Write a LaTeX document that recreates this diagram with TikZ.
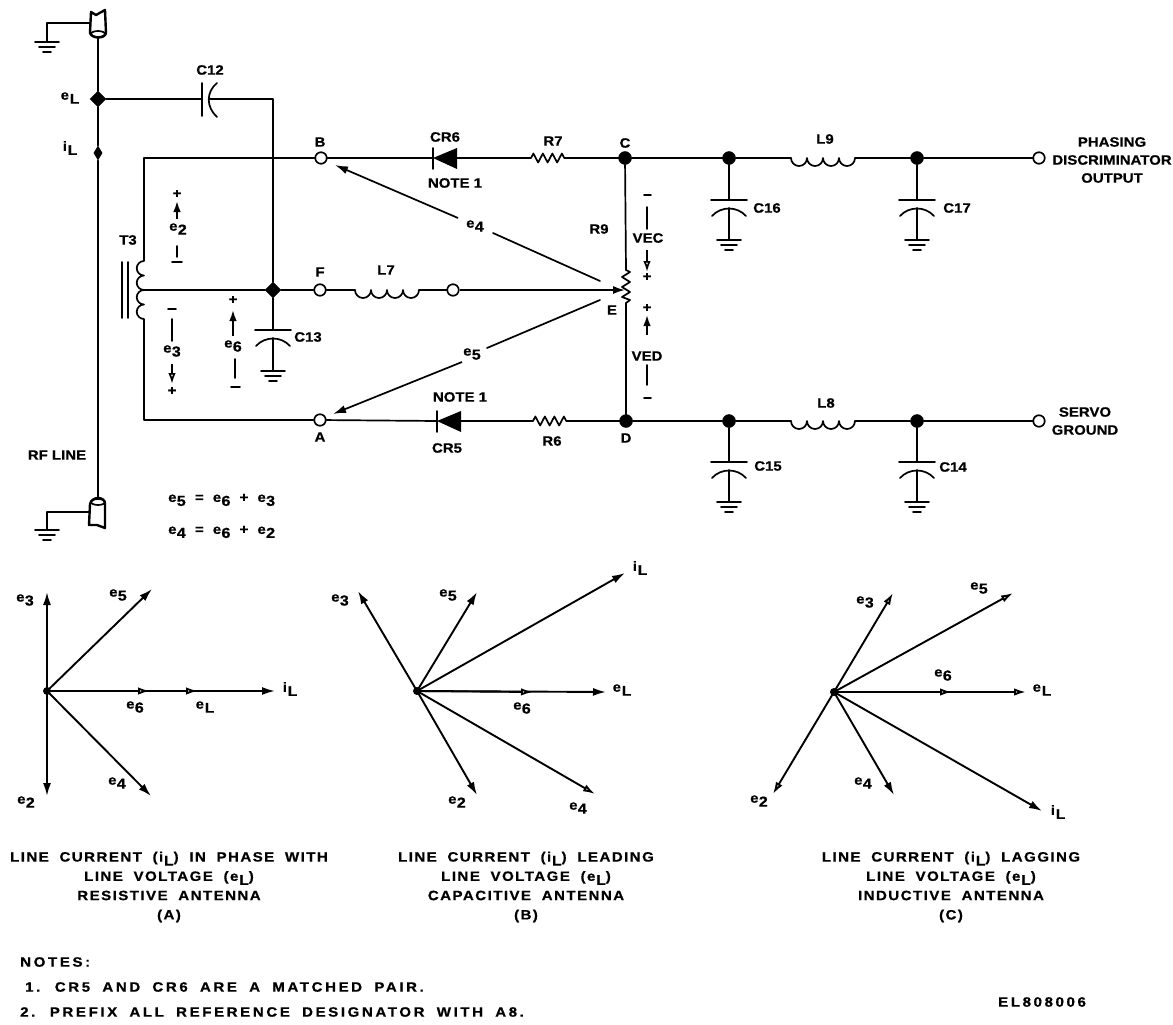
\documentclass[tikz,border=0pt]{standalone}
\usepackage{fontspec}
\setmainfont{Liberation Sans Bold}[FakeStretch=1.11,FakeBold=0.6]
\newfontfamily\capfont{Liberation Sans Bold}[FakeStretch=1.12,FakeBold=0.6,LetterSpace=10.5,WordSpace=1.9]
\newfontfamily\notefont{Liberation Sans Bold}[FakeStretch=1.12,FakeBold=0.6,LetterSpace=19,WordSpace=1.8]
\usetikzlibrary{arrows.meta,shapes.geometric,decorations.pathmorphing}
\newcommand\ee[1]{e\kern.3pt\raisebox{-4pt}{\fontsize{14.5}{14.5}\selectfont #1}}
\newcommand\eL{e\kern.8pt\raisebox{-4pt}{\fontsize{14}{14}\selectfont L}}
\newcommand\ii{i\kern.8pt\raisebox{-4pt}{\fontsize{14}{14}\selectfont L}}
\newcommand\lb[3]{\node[lab] (#1) at (#2) {#3};}
\newcommand\shunt[4]{%
  \coordinate (#1p) at (#2,#3);
  \coordinate (#1a) at (#2,#3+8);
  \coordinate (#1g) at (#2,#4);
  \draw[wire] (#1) -- (#1p);
  \pic at (#1p) {capv};
  \draw[wire] (#1a) -- (#1g);
  \pic at (#1g) {gnd};}
\tikzset{
  wire/.style={line width=1.7pt,line cap=round,line join=round},
  heavy/.style={line width=2.4pt,line cap=round,line join=round},
  lab/.style={inner sep=0pt,font=\fontsize{13.5}{18}\selectfont,align=center},
  captext/.style={inner sep=0pt,font=\capfont\fontsize{13.5}{19.3}\selectfont,align=center},
  notetext/.style={inner sep=0pt,anchor=west,font=\notefont\fontsize{13.5}{15}\selectfont},
  jdot/.style={circle,fill=black,draw=black,inner sep=0pt,minimum size=13pt},
  jdia/.style={diamond,fill=black,draw=black,inner sep=0pt,minimum size=16pt},
  term/.style={circle,fill=white,draw=black,line width=1.7pt,inner sep=0pt,minimum size=11.5pt},
  phasor/.style={line width=1.9pt,-{Latex[length=13pt,width=8pt]}},
  hollow/.style={line width=1.9pt,-{Latex[open,fill=white,length=12pt,width=7.5pt]}},
  pol/.style={line width=1.7pt,-{Latex[length=11pt,width=7.5pt]}},
  polo/.style={line width=1.7pt,-{Latex[open,fill=white,length=11pt,width=7.5pt]}},
  resist/.style={wire,decorate,decoration={zigzag,segment length=9.5pt,amplitude=4.5pt,pre length=1pt,post length=1pt}},
  gnd/.pic={\draw[wire] (-12,0)--(12,0) (-8,5)--(8,5) (-4,10)--(4,10);},
  capv/.pic={\draw[wire] (-18,0)--(18,0);
    \draw[wire] (-17,16) .. controls (-8,6) and (8,6) .. (17,16);},
  coil/.pic={\draw[wire] (0,0) arc[start angle=180,end angle=0,radius=8]
    arc[start angle=180,end angle=0,radius=8]
    arc[start angle=180,end angle=0,radius=8]
    arc[start angle=180,end angle=0,radius=8];},
}
\begin{document}
\begin{tikzpicture}[x=1pt,y=-1pt]
\path[use as bounding box] (0,0) rectangle (1173,1025);
% RF line and its connectors
\coordinate (ct) at (98,38);
\coordinate (cb) at (98,499);
\node[jdia] (eLj) at (98,99) {};
\node[diamond,fill=black,inner sep=0pt,minimum width=9pt,minimum height=15pt] (iLj) at (98,153) {};
\draw[heavy] (ct) -- (eLj) -- (iLj) -- (cb);
\draw[heavy] (91,12) -- (96,15) -- (105,10) -- (106,33) .. controls (105,39) and (92,39) .. (90,33) -- cycle;
\draw[wire] (98,34) ellipse[x radius=7,y radius=3];
\draw[heavy] (90,504) .. controls (92,496) and (105,496) .. (105,504) -- (105,528) -- (97,525) -- (89,525) -- cycle;
\draw[wire] (98,502) ellipse[x radius=7,y radius=3];
\coordinate (gt) at (47,42); \coordinate (gts) at (90,23);
\coordinate (gb) at (47,530); \coordinate (gbs) at (89,512);
\draw[wire] (gts) -| (gt); \pic at (gt) {gnd};
\draw[wire] (gbs) -| (gb); \pic at (gb) {gnd};
% C12
\coordinate (c12p) at (202,99); \coordinate (c12a) at (209,99); \coordinate (c12r) at (273,99);
\node[jdia] (jF) at (273,290) {};
\draw[wire] (eLj) -- (c12p);
\draw[wire] (202,83) -- (202,116);
\draw[wire] (217,83) .. controls (206,92) and (206,107) .. (217,117);
\draw[wire] (c12a) -- (c12r) -- (jF);
% terminals and junctions
\node[term] (B) at (321,158) {};
\node[term] (F) at (320,290) {};
\node[term] (A) at (320,420) {};
\node[term] (M) at (453,290) {};
\node[jdot] (C) at (625,158) {};
\node[jdot] (D) at (626,421) {};
\node[jdot] (j16) at (729,158) {};
\node[jdot] (j17) at (917,158) {};
\node[jdot] (j15) at (729,421) {};
\node[jdot] (j14) at (917,421) {};
\node[term] (out1) at (1039,158) {};
\node[term] (out2) at (1039,421) {};
% transformer
\coordinate (tt) at (144,158); \coordinate (t1) at (144,261); \coordinate (tm) at (144,290);
\coordinate (tb) at (144,420);
\draw[wire] (tt) -- (B);
\draw[wire] (tt) -- (t1)
  arc[start angle=270,end angle=90,radius=7.25] arc[start angle=270,end angle=90,radius=7.25]
  arc[start angle=270,end angle=90,radius=7.25] arc[start angle=270,end angle=90,radius=7.25]
  -- (tb) -- (A);
\draw[wire] (tm) -- (jF) -- (F);
\draw[wire] (122,262) -- (122,318) (128,262) -- (128,318);
% top branch
\coordinate (d6t) at (433,158); \coordinate (d6b) at (457,158);
\draw[wire] (B) -- (d6t);
\draw[wire] (433,148) -- (433,169);
\fill (d6t) -- (457,148) -- (457,169) -- cycle;
\coordinate (r7a) at (530,158); \coordinate (r7b) at (567,158);
\draw[wire] (d6b) -- (r7a) (r7b) -- (C);
\draw[resist] (r7a) -- (r7b);
\coordinate (l9a) at (791,158); \coordinate (l9b) at (855,158);
\draw[wire] (C) -- (j16) -- (l9a) (l9b) -- (j17) -- (out1);
\pic at (l9a) {coil};
% bottom branch
\coordinate (d5t) at (437,421); \coordinate (d5b) at (461,421);
\draw[wire] (A) -- (d5t);
\draw[wire] (437,411) -- (437,432);
\fill (d5t) -- (461,411) -- (461,432) -- cycle;
\coordinate (r6a) at (532,421); \coordinate (r6b) at (568,421);
\draw[wire] (d5b) -- (r6a) (r6b) -- (D);
\draw[resist] (r6a) -- (r6b);
\coordinate (l8a) at (791,421); \coordinate (l8b) at (855,421);
\draw[wire] (D) -- (j15) -- (l8a) (l8b) -- (j14) -- (out2);
\pic at (l8a) {coil};
% L7 and R9
\coordinate (l7a) at (355,290); \coordinate (l7b) at (419,290);
\draw[wire] (F) -- (l7a) (l7b) -- (M);
\pic at (l7a) {coil};
\coordinate (r9a) at (626,270); \coordinate (r9b) at (626,303); \coordinate (wip) at (625,290);
\draw[wire] (C) -- (r9a) (r9b) -- (D);
\draw[wire] (r9a) -- (630,272) -- (622,277) -- (630,282) -- (622,287) -- (630,292) -- (622,297) -- (630,300) -- (r9b);
\draw[line width=1.7pt,-{Latex[length=12pt,width=8pt]}] (M) -- (wip);
% shunt capacitors
\shunt{jF}{273}{330}{371}
\shunt{j16}{729}{200}{240}
\shunt{j17}{917}{200}{240}
\shunt{j15}{729}{462}{502}
\shunt{j14}{917}{462}{502}
% e4 and e5 vectors
\coordinate (e4s) at (600,281); \coordinate (e4x) at (493,233); \coordinate (e4y) at (458,218); \coordinate (e4e) at (335,165);
\coordinate (e5s) at (600,300); \coordinate (e5x) at (487,348); \coordinate (e5y) at (462,362); \coordinate (e5e) at (333,414);
\draw[wire] (e4s) -- (e4x);
\draw[line width=1.7pt,-{Latex[length=13pt,width=8pt]}] (e4y) -- (e4e);
\draw[wire] (e5s) -- (e5x);
\draw[line width=1.7pt,-{Latex[length=13pt,width=8pt]}] (e5y) -- (e5e);
\lb{le4}{475,226}{\ee4}
\lb{le5}{472,354}{\ee5}
% polarity markers
\lb{p2}{177,194}{+}
\draw[pol] (177,219) -- (177,201);
\lb{le2}{178,229}{\ee2}
\draw[wire] (177,246) -- (177,257) (172,262) -- (182,262);
\draw[wire] (168,309) -- (176,309) (172,319) -- (172,341);
\lb{le3}{172,351}{\ee3}
\draw[polo] (172,364) -- (172,384);
\lb{p3}{172,391}{+}
\lb{p6}{233,300}{+}
\draw[pol] (233,336) -- (233,310);
\lb{le6}{233,346}{\ee6}
\draw[wire] (235,359) -- (235,378) (231,387) -- (240,387);
\draw[wire] (644,195) -- (651,195) (647,207) -- (647,229);
\lb{vec}{648,238}{VEC}
\draw[polo] (647,250) -- (647,272);
\lb{pc}{647,277}{+}
\lb{pd}{647,308}{+}
\draw[pol] (647,335) -- (647,315);
\lb{ved}{647,356}{VED}
\draw[wire] (647,365) -- (647,385) (644,398) -- (651,398);
% circuit labels
\lb{leL}{70,98}{\eL}
\lb{liL}{70,148}{\ii}
\lb{lB}{320,142}{B}
\lb{lC}{625,143}{C}
\lb{lF}{320,272}{F}
\lb{lA}{320,437}{A}
\lb{lD}{626,438}{D}
\lb{lE}{612,310}{E}
\lb{lcr6}{445,137}{CR6}
\lb{ln6}{455,183}{NOTE 1}
\lb{lr7}{553,141}{R7}
\lb{lr9}{599,229}{R9}
\lb{lcr5}{447,448}{CR5}
\lb{ln5}{460,397}{NOTE 1}
\lb{lr6}{552,441}{R6}
\lb{ll9}{825,139}{L9}
\lb{ll8}{826,403}{L8}
\lb{ll7}{386,270}{L7}
\lb{lc12}{210,70}{C12}
\lb{lc13}{308,337}{C13}
\lb{lc16}{767,208}{C16}
\lb{lc17}{957,208}{C17}
\lb{lc15}{768,466}{C15}
\lb{lc14}{953,467}{C14}
\lb{lt3}{128,240}{T3}
\lb{lrf}{57,455}{RF LINE}
\lb{lout}{1112,160}{PHASING\\DISCRIMINATOR\\OUTPUT}
\lb{lsrv}{1085,421}{SERVO\\GROUND}
\node[lab,anchor=west] (eq1) at (168,500) {\ee5\hspace{5pt} = \hspace{5pt}\ee6\hspace{5pt} + \hspace{5pt}\ee3};
\node[lab,anchor=west] (eq2) at (168,532) {\ee4\hspace{5pt} = \hspace{5pt}\ee6\hspace{5pt} + \hspace{5pt}\ee2};
% phasor diagram A
\coordinate (oA) at (47,691);
\fill (oA) circle (4);
\coordinate (A3) at (47,592); \coordinate (A5) at (152,589); \coordinate (Ai) at (275,691);
\coordinate (A6) at (150,691); \coordinate (AL) at (198,691); \coordinate (A4) at (151,796); \coordinate (A2) at (47,796);
\foreach \t in {A3,A5,Ai,A4,A2} \draw[phasor] (oA) -- (\t);
\foreach \t in {AL,A6} \draw[hollow] (oA) -- (\t);
\lb{a3}{25,600}{\ee3} \lb{a5}{118,595}{\ee5} \lb{ai}{290,689}{\ii} \lb{a6}{135,707}{\ee6}
\lb{aL}{205,707}{\eL} \lb{a4}{117,783}{\ee4} \lb{a2}{26,802}{\ee2}
% phasor diagram B
\coordinate (oB) at (417,691);
\fill (oB) circle (4);
\coordinate (B3) at (358,591); \coordinate (B5) at (477,592); \coordinate (Bi) at (625,573);
\coordinate (BL) at (606,692); \coordinate (B6) at (533,692); \coordinate (B4) at (595,794); \coordinate (B2) at (477,795);
\foreach \t in {B3,B5,Bi,BL,B2} \draw[phasor] (oB) -- (\t);
\foreach \t in {B6,B4} \draw[hollow] (oB) -- (\t);
\lb{b3}{340,600}{\ee3} \lb{b5}{448,595}{\ee5} \lb{bi}{640,568}{\ii} \lb{bL}{622,690}{\eL}
\lb{b6}{522,708}{\ee6} \lb{b2}{457,802}{\ee2} \lb{b4}{578,808}{\ee4}
% phasor diagram C
\coordinate (oC) at (834,692);
\fill (oC) circle (4);
\coordinate (C3) at (893,593); \coordinate (C5) at (1013,593); \coordinate (CL) at (1026,692);
\coordinate (C6) at (952,692); \coordinate (Ci) at (1042,811); \coordinate (C4) at (894,795); \coordinate (C2) at (773,794);
\foreach \t in {Ci,C4} \draw[phasor] (oC) -- (\t);
\foreach \t in {C3,C5,CL,C6,C2} \draw[hollow] (oC) -- (\t);
\lb{c3}{865,602}{\ee3} \lb{c5}{979,588}{\ee5} \lb{c6}{943,675}{\ee6} \lb{cL}{1042,690}{\eL}
\lb{c4}{863,783}{\ee4} \lb{c2}{759,801}{\ee2} \lb{ci}{1058,812}{\ii}
% captions
\node[captext] (capA) at (169,887) {LINE CURRENT (\ii) IN PHASE WITH\\LINE VOLTAGE (\eL)\\RESISTIVE ANTENNA\\(A)};
\node[captext] (capB) at (526,887) {LINE CURRENT (\ii) LEADING\\LINE VOLTAGE (\eL)\\CAPACITIVE ANTENNA\\(B)};
\node[captext] (capC) at (951,887) {LINE CURRENT (\ii) LAGGING\\LINE VOLTAGE (\eL)\\INDUCTIVE ANTENNA\\(C)};
% notes
\node[notetext] (n0) at (20,962) {NOTES:};
\node[notetext] (n1) at (25,987) {1. CR5 AND CR6 ARE A MATCHED PAIR.};
\node[notetext] (n2) at (20,1012) {2. PREFIX ALL REFERENCE DESIGNATOR WITH A8.};
\node[notetext] (dwg) at (998,1002) {EL808006};
\end{tikzpicture}
\end{document}
